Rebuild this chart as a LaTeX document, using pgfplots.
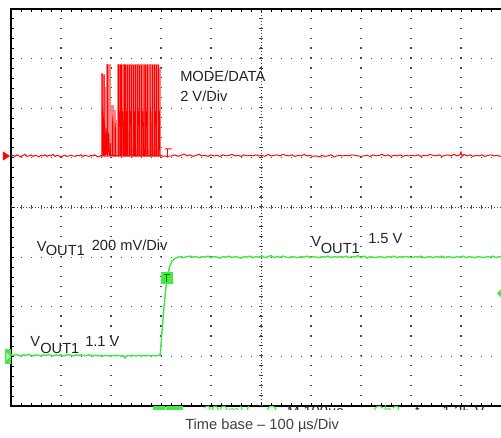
\documentclass[border=0pt]{standalone}
\usepackage{pgfplots}
\pgfplotsset{compat=1.18}
\usepackage{fontspec}
\setmainfont{Liberation Sans}
\definecolor{trred}{RGB}{255,0,0}
\definecolor{trpink}{RGB}{255,128,128}
\definecolor{trgreen}{RGB}{70,232,70}
\definecolor{txt}{RGB}{35,35,35}
\definecolor{gridc}{RGB}{70,70,70}
\begin{document}
\begin{tikzpicture}
\begin{axis}[
  scale only axis, width=375pt, height=297.75pt,
  xmin=0, xmax=10, ymin=0, ymax=8,
  xtick={0,1,...,10}, ytick={0,1,...,8},
  minor x tick num=4, minor y tick num=4,
  xticklabel=\empty, yticklabel=\empty,
  tick align=inside, major tick length=2.5pt, minor tick length=2.5pt,
  tick style={black, line width=0.7pt},
  grid=major,
  major x grid style={gridc, line width=0.9pt, dash pattern=on 0.9pt off 6.54375pt},
  major y grid style={gridc, line width=0.9pt, dash pattern=on 0.9pt off 6.6pt},
  axis line style={black, line width=1.1pt},
]
% centre cross with its small ticks
\draw[gridc, line width=0.75pt, dash pattern=on 0.75pt off 1.5pt] (axis cs:0,4) -- (axis cs:10,4);
\draw[gridc, line width=3pt, dash pattern=on 0.75pt off 6.75pt] (axis cs:0,4) -- (axis cs:10,4);
\draw[gridc, line width=0.75pt, dash pattern=on 0.75pt off 1.5pt] (axis cs:5,0) -- (axis cs:5,8);
\draw[gridc, line width=3pt, dash pattern=on 0.75pt off 6.69375pt] (axis cs:5,0) -- (axis cs:5,8);

% MODE/DATA burst, persistence (light)
\addplot[trpink, line width=1.5pt] coordinates {
(1.80,5.04)(1.82,5.04)(1.82,6.70)(1.825,6.70)(1.825,5.04)
(1.85,5.04)(1.85,6.66)(1.855,6.66)(1.855,5.04)
(1.885,5.04)(1.885,6.40)(1.89,6.40)(1.89,5.04)
(1.93,5.04)(1.93,6.88)(1.935,6.88)(1.935,5.04)
(1.975,5.04)(1.975,6.88)(1.98,6.88)(1.98,5.04)
(2.03,5.04)(2.03,6.05)(2.035,6.05)(2.035,5.04)
(2.07,5.04)(2.07,5.95)(2.075,5.95)(2.075,5.04)
(2.10,5.04)(2.10,5.75)(2.105,5.75)(2.105,5.04)
(2.14,5.04)(2.14,6.87)(2.145,6.87)(2.145,5.04)
(2.182,5.04)(2.182,6.87)(2.187,6.87)(2.187,5.04)
(2.224,5.04)(2.224,6.87)(2.229,6.87)(2.229,5.04)
(2.266,5.04)(2.266,6.87)(2.271,6.87)(2.271,5.04)
(2.308,5.04)(2.308,6.87)(2.313,6.87)(2.313,5.04)
(2.350,5.04)(2.350,6.87)(2.355,6.87)(2.355,5.04)
(2.392,5.04)(2.392,6.87)(2.397,6.87)(2.397,5.04)
(2.434,5.04)(2.434,6.87)(2.439,6.87)(2.439,5.04)
(2.476,5.04)(2.476,6.87)(2.481,6.87)(2.481,5.04)
(2.518,5.04)(2.518,6.87)(2.523,6.87)(2.523,5.04)
(2.560,5.04)(2.560,6.87)(2.565,6.87)(2.565,5.04)
(2.602,5.04)(2.602,6.87)(2.607,6.87)(2.607,5.04)
(2.644,5.04)(2.644,6.87)(2.649,6.87)(2.649,5.04)
(2.686,5.04)(2.686,6.87)(2.691,6.87)(2.691,5.04)
(2.728,5.04)(2.728,6.87)(2.733,6.87)(2.733,5.04)
(2.770,5.04)(2.770,6.87)(2.775,6.87)(2.775,5.04)
(2.812,5.04)(2.812,6.87)(2.817,6.87)(2.817,5.04)
(2.854,5.04)(2.854,6.87)(2.859,6.87)(2.859,5.04)
(2.896,5.04)(2.896,6.87)(2.901,6.87)(2.901,5.04)
(2.938,5.04)(2.938,6.87)(2.943,6.87)(2.943,5.04)
(2.975,5.04)(2.975,6.80)(2.98,6.80)(2.98,5.04)(3.0,5.04)
};
% MODE/DATA trace
\addplot[trred, line width=0.7pt] coordinates {
(0.00,5.04)(0.04,5.05)(0.08,5.03)(0.12,5.06)(0.16,5.04)(0.20,5.02)(0.24,5.05)(0.28,5.07)
(0.32,5.03)(0.36,5.04)(0.40,5.06)(0.44,5.03)(0.48,5.05)(0.52,5.04)(0.56,5.02)(0.60,5.05)
(0.64,5.04)(0.68,5.06)(0.72,5.03)(0.76,5.05)(0.80,5.04)(0.84,5.07)(0.88,5.03)(0.92,5.05)
(0.96,5.04)(1.00,5.02)(1.04,5.04)(1.08,5.05)(1.12,5.03)(1.16,5.04)(1.20,5.05)(1.24,5.04)
(1.28,5.03)(1.32,5.05)(1.36,5.04)(1.40,5.06)(1.44,5.03)(1.48,5.05)(1.52,5.04)(1.56,5.03)
(1.60,5.05)(1.64,5.04)(1.68,5.06)(1.72,5.03)(1.76,5.02)(1.80,5.05)
(1.82,5.04)(1.822,6.70)(1.826,5.95)(1.835,5.90)(1.84,5.30)(1.845,5.05)
(1.86,5.06)(1.862,6.66)(1.866,5.65)(1.875,5.55)(1.88,5.05)(1.90,5.10)(1.905,5.60)(1.91,5.08)
(1.93,5.05)(1.932,6.88)(1.936,5.20)(1.95,5.15)(1.955,5.50)(1.96,5.06)(1.98,5.05)(1.99,5.30)
(1.995,5.05)(2.03,5.05)(2.035,5.85)(2.04,5.05)(2.08,5.04)(2.085,5.70)(2.09,5.05)(2.15,5.04)
(2.152,6.87)(2.158,6.87)(2.16,5.93)(2.175,5.93)(2.178,5.04)(2.19,5.04)(2.192,6.87)(2.197,6.87)
(2.20,5.04)(2.21,5.04)(2.212,6.87)(2.216,5.93)(2.235,5.93)(2.238,5.04)(2.26,5.04)(2.262,6.87)
(2.267,6.87)(2.27,5.04)(2.29,5.04)(2.292,6.87)(2.296,5.93)(2.31,5.93)(2.313,5.04)(2.33,5.04)
(2.332,6.87)(2.337,5.04)(2.37,5.04)(2.372,6.87)(2.376,5.93)(2.395,5.93)(2.398,5.04)(2.41,5.04)
(2.412,6.87)(2.416,5.04)(2.45,5.04)(2.452,6.87)(2.456,5.93)(2.47,5.93)(2.473,5.04)(2.49,5.04)
(2.492,6.87)(2.496,5.04)(2.53,5.04)(2.532,6.87)(2.536,5.93)(2.555,5.93)(2.558,5.04)(2.57,5.04)
(2.572,6.87)(2.576,5.04)(2.61,5.04)(2.612,6.87)(2.616,5.93)(2.635,5.93)(2.638,5.04)(2.66,5.04)
(2.662,6.87)(2.666,5.04)(2.69,5.04)(2.692,6.87)(2.696,5.93)(2.715,5.93)(2.718,5.04)(2.73,5.04)
(2.732,6.87)(2.736,5.04)(2.78,5.04)(2.782,6.87)(2.786,5.93)(2.80,5.93)(2.803,5.04)(2.83,5.04)
(2.832,6.87)(2.836,5.04)(2.87,5.04)(2.872,6.87)(2.876,5.93)(2.895,5.93)(2.898,5.04)(2.91,5.04)
(2.912,6.87)(2.916,5.04)(2.95,5.04)(2.952,6.87)(2.956,5.93)(2.97,5.93)(2.975,5.04)
(3.00,5.05)(3.04,5.03)(3.08,5.04)(3.13,5.02)(3.13,5.18)(3.08,5.18)(3.21,5.18)(3.13,5.18)(3.13,5.03)
(3.22,5.04)(3.28,5.06)(3.34,5.03)(3.40,5.05)(3.46,5.08)(3.52,5.04)(3.58,5.06)(3.64,5.03)
(3.70,5.05)(3.76,5.07)(3.82,5.04)(3.88,5.05)(3.94,5.03)(4.00,5.06)(4.06,5.04)(4.12,5.05)
(4.18,5.03)(4.24,5.06)(4.30,5.04)(4.36,5.05)(4.42,5.07)(4.48,5.04)(4.54,5.05)(4.60,5.03)
(4.66,5.06)(4.72,5.04)(4.78,5.05)(4.84,5.04)(4.90,5.06)(4.96,5.04)(5.02,5.05)(5.08,5.03)
(5.14,5.07)(5.20,5.04)(5.26,5.05)(5.32,5.06)(5.38,5.04)(5.44,5.07)(5.50,5.05)(5.56,5.04)
(5.62,5.06)(5.68,5.03)(5.74,5.05)(5.80,5.04)(5.86,5.07)(5.92,5.04)(5.98,5.05)(6.04,5.03)
(6.10,5.04)(6.16,5.02)(6.22,5.05)(6.28,5.03)(6.34,5.04)(6.40,5.06)(6.46,5.02)(6.52,5.04)
(6.58,5.05)(6.64,5.04)(6.70,5.05)(6.76,5.04)(6.82,5.06)(6.88,5.05)(6.94,5.04)(7.00,5.03)
(7.06,5.04)(7.12,5.05)(7.18,5.03)(7.24,5.06)(7.30,5.04)(7.36,5.05)(7.42,5.07)(7.48,5.04)
(7.54,5.06)(7.60,5.03)(7.66,5.05)(7.72,5.04)(7.78,5.06)(7.84,5.03)(7.90,5.05)(7.96,5.04)
(8.02,5.05)(8.08,5.04)(8.14,5.06)(8.20,5.03)(8.26,5.05)(8.32,5.04)(8.38,5.07)(8.44,5.05)
(8.50,5.04)(8.56,5.06)(8.62,5.03)(8.68,5.05)(8.74,5.06)(8.80,5.04)(8.86,5.07)(8.92,5.04)
(8.98,5.06)(9.00,5.12)(9.02,5.03)(9.06,5.07)(9.12,5.04)(9.18,5.06)(9.24,5.03)(9.30,5.05)
(9.36,5.04)(9.42,5.06)(9.48,5.03)(9.54,5.05)(9.60,5.06)(9.66,5.04)(9.72,5.05)(9.78,5.03)
(9.84,5.05)(9.90,5.04)(10.0,5.05)
};
% VOUT1 trace
\addplot[trgreen, line width=1.1pt] coordinates {
(0.00,1.03)(0.05,1.02)(0.10,1.04)(0.15,1.02)(0.20,1.01)(0.25,1.03)(0.30,1.02)(0.35,1.04)
(0.40,1.02)(0.45,1.01)(0.50,1.03)(0.55,1.02)(0.60,1.01)(0.65,1.03)(0.70,1.02)(0.75,1.04)
(0.80,1.02)(0.85,1.01)(0.90,1.03)(0.95,1.02)(1.00,1.03)(1.05,1.01)(1.10,1.02)(1.15,1.04)
(1.20,1.02)(1.25,1.01)(1.30,1.03)(1.35,1.02)(1.40,1.03)(1.45,1.02)(1.50,1.01)(1.55,1.03)
(1.60,1.02)(1.65,1.01)(1.70,1.02)(1.75,1.01)(1.80,1.02)(1.85,1.01)(1.90,1.02)(1.95,1.01)
(2.00,1.01)(2.05,1.02)(2.10,1.01)(2.15,1.02)(2.20,1.01)(2.25,1.01)(2.28,0.97)(2.31,1.01)
(2.35,1.02)(2.40,1.01)(2.45,1.02)(2.50,1.01)(2.55,1.02)(2.60,1.01)(2.65,1.02)(2.70,1.01)
(2.75,1.02)(2.80,1.01)(2.85,1.02)(2.90,1.01)(2.95,1.02)(2.98,1.02)
(2.99,1.10)(3.02,1.50)(3.06,2.00)(3.10,2.40)(3.13,2.60)(3.17,2.80)(3.22,2.92)(3.28,2.97)(3.34,3.00)
(3.40,3.01)(3.46,2.99)(3.52,3.01)(3.58,3.02)(3.64,3.00)(3.70,3.01)(3.76,2.99)(3.82,3.01)
(3.88,3.00)(3.94,3.02)(4.00,2.99)(4.06,3.01)(4.12,3.00)(4.18,2.98)(4.24,3.01)(4.30,3.00)
(4.36,3.02)(4.42,2.99)(4.48,3.01)(4.54,3.00)(4.60,2.98)(4.66,3.01)(4.72,3.00)(4.78,3.02)
(4.84,2.99)(4.90,3.01)(4.96,3.00)(5.02,3.02)(5.08,2.99)(5.14,3.01)(5.20,3.03)(5.26,2.99)
(5.32,3.01)(5.38,3.00)(5.44,3.02)(5.50,3.00)(5.56,2.99)(5.62,3.01)(5.68,3.00)(5.74,2.99)
(5.80,3.01)(5.86,3.00)(5.92,3.02)(5.98,2.99)(6.04,3.01)(6.10,3.00)(6.16,2.99)(6.22,3.01)
(6.28,3.00)(6.34,3.02)(6.40,2.99)(6.46,3.01)(6.52,3.00)(6.58,3.01)(6.64,3.00)(6.70,3.02)
(6.76,2.99)(6.82,3.01)(6.88,3.00)(6.94,3.03)(7.00,2.99)(7.06,3.02)(7.12,2.98)(7.18,3.01)
(7.24,3.00)(7.30,2.99)(7.36,3.01)(7.42,3.00)(7.48,2.99)(7.54,3.01)(7.60,3.00)(7.66,3.02)
(7.72,2.99)(7.78,3.01)(7.84,3.00)(7.90,3.01)(7.96,3.00)(8.02,2.99)(8.08,3.01)(8.14,3.00)
(8.20,3.02)(8.26,2.99)(8.32,3.00)(8.38,3.01)(8.44,2.99)(8.50,3.01)(8.56,3.00)(8.62,3.02)
(8.68,2.99)(8.74,3.01)(8.80,3.00)(8.86,2.99)(8.92,3.01)(8.98,3.00)(9.04,3.02)(9.10,2.99)
(9.16,3.01)(9.22,3.00)(9.28,2.99)(9.34,3.01)(9.40,3.00)(9.46,2.99)(9.52,3.01)(9.58,3.00)
(9.64,3.02)(9.70,2.99)(9.76,3.01)(9.82,3.00)(9.88,3.01)(10.0,3.00)
};
\end{axis}
% screen furniture, in pixel units of the 501x438 picture
\begin{scope}[xshift=-8.25pt, yshift=304.5pt, x=0.75pt, y=-0.75pt,
  every node/.style={anchor=base west, inner sep=0pt, text=txt, font=\fontsize{11}{13}\selectfont}]
  \fill[trred] (3,151.5) -- (10,156) -- (3,160.5) -- cycle;
  \fill[trgreen] (5,349) rectangle (11,364);
  \fill[white!55!trgreen] (6.5,352.5) -- (10,356.5) -- (6.5,360.5) -- cycle;
  \fill[trgreen] (501,289.5) -- (497,293.5) -- (501,297.5) -- cycle;
  \fill[trgreen] (161,272) rectangle (172.5,284.5);
  \draw[green!45!black, line width=0.9pt] (163.5,274.5) -- (170,274.5) (166.75,274.5) -- (166.75,282.5);
  % status line of the scope, cut off below
  \fill[trgreen] (153,406.5) rectangle (164.5,414);
  \fill[trgreen] (166,406.5) rectangle (182.5,414);
  \node[text=trgreen] at (203,417) {200mV};
  \node[text=trgreen] at (266,417) {Ω};
  \node at (287,417) {M 100µs};
  \node[text=trgreen] at (373,417) {Ch3};
  \node at (415,417) {f};
  \node at (442,417) {1.35 V};
  \fill[white] (0,410.5) rectangle (501,438);
  % labels
  \node at (180,81.7) {MODE/DATA};
  \node at (180,101.7) {2 V/Div};
  \node at (36.5,251.5) {V};
  \node at (45.5,256) {OUT1};
  \node at (91.5,251) {200 mV/Div};
  \node at (30,347) {V};
  \node at (40,353.3) {OUT1};
  \node at (85,347) {1.1 V};
  \node at (311,247) {V};
  \node at (320.5,253.3) {OUT1};
  \node at (368,243.5) {1.5 V};
  \node[text=black!75] at (185,430) {Time base – 100 µs/Div};
\end{scope}
\pgfresetboundingbox
\path[use as bounding box] (-8.25pt,-24pt) rectangle (367.5pt,304.5pt);
\end{tikzpicture}
\end{document}
